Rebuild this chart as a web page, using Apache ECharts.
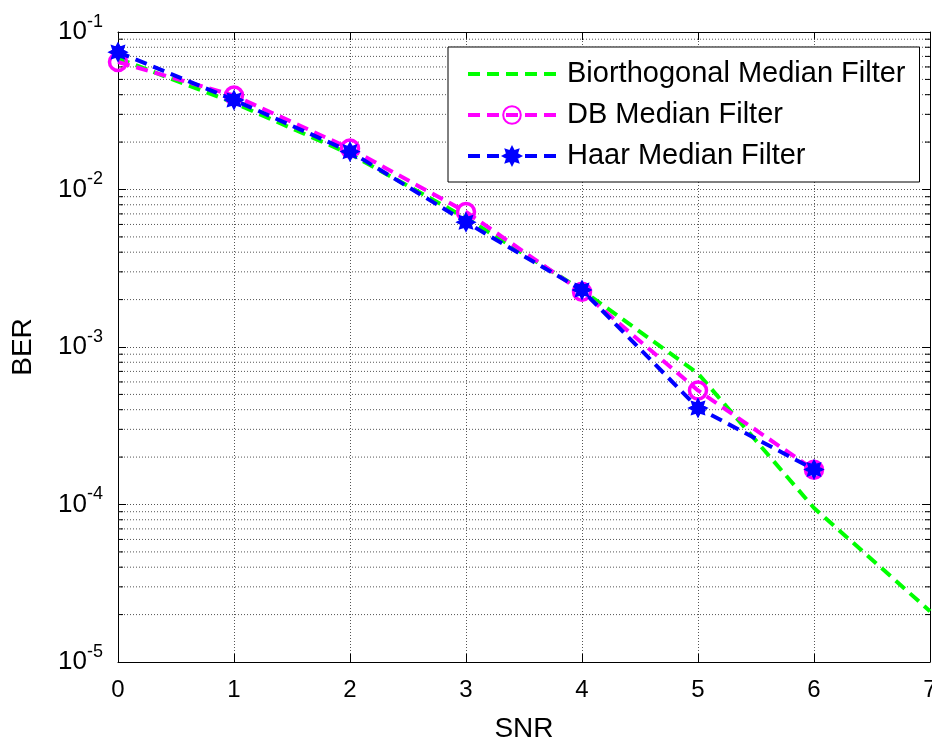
<!DOCTYPE html>
<html>
<head>
<meta charset="utf-8">
<script src="https://cdn.jsdelivr.net/npm/echarts@6/dist/echarts.min.js"></script>
<style>
html,body{margin:0;padding:0;background:#fff;}
#chart{width:932px;height:742px;}
</style>
</head>
<body>
<div id="chart"></div>
<script>
// ---- data ----
const snr = [0, 1, 2, 3, 4, 5, 6, 7];
const bioBER  = [0.068, 0.0355, 0.0168, 0.0066, 0.0023, 0.00068, 0.000095, 0.000021];
const dbBER   = [0.0645, 0.0395, 0.0182, 0.0072, 0.00224, 0.00053, 0.000166];
const haarBER = [0.0745, 0.037, 0.0174, 0.0062, 0.0023, 0.00041, 0.000167];
const seriesNames = ['Biorthogonal Median Filter', 'DB Median Filter', 'Haar Median Filter'];
const xTicks = [0, 1, 2, 3, 4, 5, 6, 7];
const yDecades = [1e-5, 1e-4, 1e-3, 1e-2, 1e-1];

const xMin = 0, xMax = 7, yMin = 1e-5, yMax = 1e-1;

// minor log grid values (2..9 in each decade)
const minorVals = [];
for (let d = 0; d < yDecades.length - 1; d++) {
  for (let m = 2; m <= 9; m++) minorVals.push(m * yDecades[d]);
}

function pairs(ys) { return ys.map((v, i) => [snr[i], v]); }

// asterisk-like filled star marker
function starPath() {
  const pts = [];
  const n = 8;
  for (let k = 0; k < n * 2; k++) {
    const a = Math.PI * k / n - Math.PI / 2;
    const r = (k % 2 === 0) ? 10 : 6;
    pts.push((10 + r * Math.cos(a)).toFixed(2) + ' ' + (10 + r * Math.sin(a)).toFixed(2));
  }
  return 'path://M' + pts.join(' L') + ' Z';
}

const font = 'Liberation Sans, Arial, Helvetica, sans-serif';
const gridLine = { show: true, lineStyle: { color: '#555', width: 1, type: [1, 2] } };
const dash = [12, 7];
const lw = 4;

const chart = echarts.init(document.getElementById('chart'), null, { renderer: 'canvas' });

const option = {
  backgroundColor: '#fff',
  animation: false,
  textStyle: { fontFamily: font },
  grid: { left: 118, right: 2, top: 32, bottom: 80, containLabel: false, outerBoundsMode: 'none' },
  legend: {
    data: [
      { name: seriesNames[0], itemStyle: { color: 'rgba(0,0,0,0)', borderColor: 'rgba(0,0,0,0)', borderWidth: 0 } },
      { name: seriesNames[1] },
      { name: seriesNames[2] }
    ],
    orient: 'vertical',
    left: 448,
    top: 47,
    padding: [12, 14, 11, 18],
    itemWidth: 88,
    itemHeight: 22,
    itemGap: 11,
    lineStyle: { width: lw },
    backgroundColor: '#fff',
    borderColor: '#000',
    borderWidth: 1,
    borderRadius: 0,
    textStyle: { fontSize: 29, color: '#000', fontFamily: font, lineHeight: 30, padding: [0, 0, 0, 6] }
  },
  xAxis: [{
    type: 'value', min: xMin, max: xMax, interval: 1,
    name: 'SNR', nameLocation: 'middle', nameGap: 53,
    nameTextStyle: { fontSize: 28, color: '#000', fontFamily: font },
    axisLine: { show: true, onZero: false, lineStyle: { color: '#000', width: 1 } },
    axisTick: { show: true, inside: true, length: 8, lineStyle: { color: '#000' } },
    axisLabel: { fontSize: 24, color: '#000', margin: 16, fontFamily: font,
      formatter: v => String(v) },
    splitLine: gridLine
  }, {
    type: 'value', min: xMin, max: xMax, interval: 1, position: 'top',
    axisLine: { show: true, onZero: false, lineStyle: { color: '#000', width: 1 } },
    axisTick: { show: true, inside: true, length: 8, lineStyle: { color: '#000' } },
    axisLabel: { show: false },
    splitLine: { show: false }
  }],
  yAxis: [{
    type: 'log', logBase: 10, min: yMin, max: yMax, interval: 1,
    name: 'BER', nameLocation: 'middle', nameGap: 81, nameRotate: 90,
    nameTextStyle: { fontSize: 28, color: '#000', fontFamily: font },
    axisLine: { show: true, onZero: false, lineStyle: { color: '#000', width: 1 } },
    axisTick: { show: true, inside: true, length: 8, lineStyle: { color: '#000' } },
    axisLabel: {
      margin: 15, color: '#000', fontFamily: font,
      formatter: v => '{b|10}{s|' + Math.round(Math.log10(v)) + '}',
      rich: {
        b: { fontSize: 26, fontFamily: font, color: '#000', lineHeight: 26, verticalAlign: 'bottom' },
        s: { fontSize: 18, fontFamily: font, color: '#000', lineHeight: 18, verticalAlign: 'bottom', padding: [0, 0, 14, 0] }
      }
    },
    splitLine: gridLine
  }, {
    type: 'log', logBase: 10, min: yMin, max: yMax, interval: 1, position: 'right',
    axisLine: { show: true, onZero: false, lineStyle: { color: '#000', width: 1 } },
    axisTick: { show: true, inside: true, length: 8, lineStyle: { color: '#000' } },
    axisLabel: { show: false },
    splitLine: { show: false }
  }],
  series: [
    {
      name: 'minorGrid', type: 'custom', silent: true, z: 1,
      xAxisIndex: 0, yAxisIndex: 0,
      data: minorVals.map(v => [xMin, v]),
      renderItem: function (params, api) {
        const v = api.value(1);
        const a = api.coord([xMin, v]);
        const b = api.coord([xMax, v]);
        return {
          type: 'group',
          children: [
            { type: 'line', shape: { x1: a[0], y1: a[1], x2: b[0], y2: b[1] },
              style: { stroke: '#555', lineWidth: 1, lineDash: [1, 2] } },
            { type: 'line', shape: { x1: a[0], y1: a[1], x2: a[0] + 5, y2: a[1] },
              style: { stroke: '#000', lineWidth: 1 } },
            { type: 'line', shape: { x1: b[0] - 5, y1: b[1], x2: b[0], y2: b[1] },
              style: { stroke: '#000', lineWidth: 1 } }
          ]
        };
      }
    },
    {
      name: seriesNames[0], type: 'line', z: 3,
      data: pairs(bioBER),
      symbol: 'none',
      lineStyle: { color: '#00ff00', width: lw, type: dash },
      itemStyle: { color: '#00ff00' }
    },
    {
      name: seriesNames[1], type: 'line', z: 4,
      data: pairs(dbBER),
      symbol: 'circle', symbolSize: 17,
      lineStyle: { color: '#ff00ff', width: lw, type: dash },
      itemStyle: { color: 'rgba(255,255,255,0)', borderColor: '#ff00ff', borderWidth: 3.5 }
    },
    {
      name: seriesNames[2], type: 'line', z: 5,
      data: pairs(haarBER),
      symbol: starPath(), symbolSize: 18,
      lineStyle: { color: '#0000ff', width: lw, type: dash },
      itemStyle: { color: '#0000ff', borderColor: '#0000ff', borderWidth: 1.5 }
    }
  ]
};
chart.setOption(option);
</script>
</body>
</html>
